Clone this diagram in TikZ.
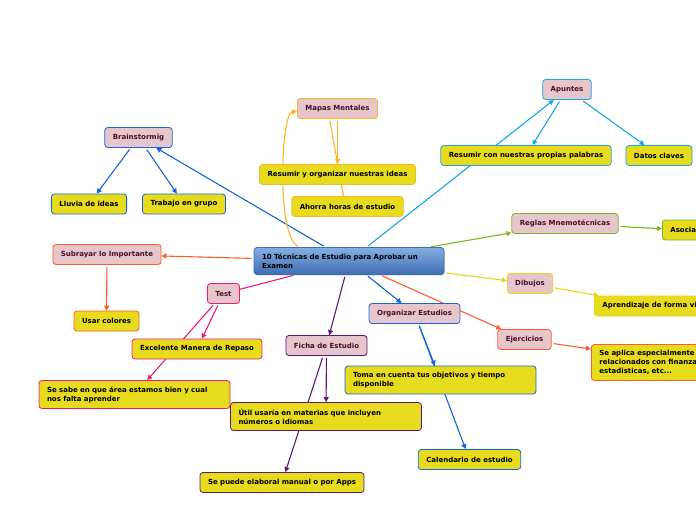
\documentclass[tikz,border=0pt]{standalone}
\usepackage{fontspec}
\setmainfont{DejaVu Sans}
\usetikzlibrary{arrows.meta, shadows}
\definecolor{mBlue}{HTML}{1565D8}
\definecolor{mSky}{HTML}{1AA5E6}
\definecolor{mAmber}{HTML}{FBB625}
\definecolor{mLime}{HTML}{7FB51D}
\definecolor{mGold}{HTML}{E8D51A}
\definecolor{mCoral}{HTML}{FF5A2A}
\definecolor{mRose}{HTML}{F2177A}
\definecolor{mPlum}{HTML}{5F1778}
\definecolor{mPink}{HTML}{E6C5CB}
\definecolor{mYellow}{HTML}{E6DB1D}
\definecolor{mWine}{HTML}{4A0D2A}
\definecolor{mHubTop}{HTML}{86AEE2}
\definecolor{mHubBot}{HTML}{3E6DB4}
\pgfdeclarelayer{bg}
\pgfsetlayers{bg,main}

\begin{document}
\begin{tikzpicture}[x=1pt, y=-1pt, font=\fontsize{7}{9}\selectfont\bfseries,
      box/.style={draw, line width=0.8pt, rounded corners=3pt, inner xsep=8pt,
        inner ysep=2pt, minimum height=20pt},
      topic/.style={box, fill=mPink, text=mWine},
      leaf/.style={box, fill=mYellow, text=black},
      multi/.style={text width=175pt, align=left, minimum height=28pt},
      hub/.style={box, top color=mHubTop, bottom color=mHubBot, draw=mHubBot,
        text width=174pt, align=left, minimum height=27pt,
        drop shadow={shadow xshift=0.8pt, shadow yshift=-1pt, opacity=0.35}},
      link/.style={line width=1.1pt, shorten <=2pt, -{Triangle[length=5pt, width=5pt]}},
      plain/.style={line width=1.1pt, shorten <=2pt}]
    \useasboundingbox (0,0) rectangle (696,520);
    \clip (0,0) rectangle (696,520);
    % centre
    \node[hub] (c) at (349,261) {10 Técnicas de Estudio para Aprobar un\\Examen};
    % upper left / top
    \node[topic, draw=mBlue] (brain) at (138.5,137.5) {Brainstormig};
    \node[leaf, draw=mBlue] (lluvia) at (89,204) {Lluvia de ideas};
    \node[leaf, draw=mBlue] (grupo) at (184,204) {Trabajo en grupo};
    \node[topic, draw=mAmber] (mapas) at (337.5,108.5) {Mapas Mentales};
    \node[leaf, draw=mAmber] (resumir) at (337.5,174.5) {Resumir y organizar nuestras ideas};
    \node[leaf, draw=mAmber] (ahorra) at (347.5,206.5) {Ahorra horas de estudio};
    \node[topic, draw=mSky] (apuntes) at (567,89.5) {Apuntes};
    \node[leaf, draw=mSky] (propias) at (526,155.5) {Resumir con nuestras propias palabras};
    \node[leaf, draw=mSky] (datos) at (659,155.5) {Datos claves};
    % right side
    \node[topic, draw=mLime] (reglas) at (565,223.5) {Reglas Mnemotécnicas};
    \node[leaf, draw=mLime, anchor=west] (asociar) at (662,230) {Asociar};
    \node[topic, draw=mGold] (dibujos) at (530,283.5) {Dibujos};
    \node[leaf, draw=mGold, anchor=west] (visual) at (594,306) {Aprendizaje de forma visual};
    \node[topic, draw=mCoral] (ejer) at (524.5,339.5) {Ejercicios};
    \node[leaf, draw=mCoral, multi, minimum height=36pt, anchor=west] (aplica) at (591,362.5)
      {Se aplica especialmente\\relacionados con finanzas,\\estadisticas, etc...};
    % lower half
    \node[topic, draw=mBlue] (organizar) at (414.5,313.5) {Organizar Estudios};
    \node[leaf, draw=mBlue, multi] (toma) at (440.5,380) {Toma en cuenta tus objetivos y tiempo\\disponible};
    \node[leaf, draw=mBlue] (calendario) at (469.5,459.5) {Calendario de estudio};
    \node[topic, draw=mPlum] (ficha) at (326.5,345.5) {Ficha de Estudio};
    \node[leaf, draw=mPlum, multi] (util) at (326,416.5) {Útil usaría en materias que incluyen\\números o idiomas};
    \node[leaf, draw=mPlum] (apps) at (282,482.5) {Se puede elaboral manual o por Apps};
    \node[topic, draw=mRose] (test) at (223.5,293.5) {Test};
    \node[leaf, draw=mRose] (repaso) at (197,349) {Excelente Manera de Repaso};
    \node[leaf, draw=mRose, multi] (sabe) at (134.5,394.5) {Se sabe en que área estamos bien y cual\\nos falta aprender};
    \node[topic, draw=mCoral] (subrayar) at (107,254.5) {Subrayar lo Importante};
    \node[leaf, draw=mCoral] (colores) at (106.5,321) {Usar colores};
    % connectors
    \begin{pgfonlayer}{bg}
      \foreach \a/\b/\col in {c/brain/mBlue, brain/lluvia/mBlue, brain/grupo/mBlue,
          mapas/resumir/mAmber, c/apuntes/mSky, apuntes/propias/mSky, apuntes/datos/mSky,
          c/reglas/mLime, reglas/asociar/mLime, c/dibujos/mGold, dibujos/visual/mGold,
          c/ejer/mCoral, ejer/aplica/mCoral, c/organizar/mBlue, organizar/toma/mBlue,
          organizar/calendario/mBlue, c/ficha/mPlum, ficha/util/mPlum, ficha/apps/mPlum,
          test/repaso/mRose, test/sabe/mRose, c/subrayar/mCoral, subrayar/colores/mCoral}
        \draw[link, \col] (\a) -- (\b);
      \draw[plain, mRose] (c) -- (test);
      \draw[plain, mAmber] ([xshift=-8pt]mapas.south) -- ([xshift=-4pt]ahorra.north);
      \draw[link, mAmber] ([xshift=-49pt]c.north) .. controls +(-24,-10) and +(-16,1)
        .. ([yshift=-3pt]mapas.west);
    \end{pgfonlayer}
  \end{tikzpicture}
\end{document}
